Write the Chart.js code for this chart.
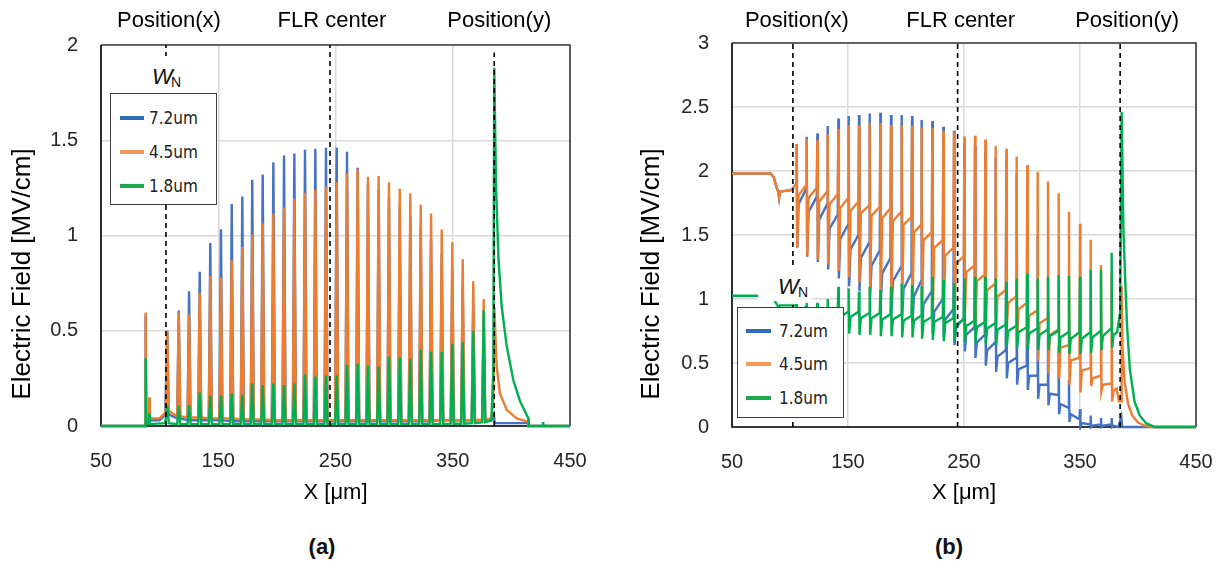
<!DOCTYPE html>
<html><head><meta charset="utf-8">
<script src="https://cdn.jsdelivr.net/npm/chart.js@4.4.1/dist/chart.umd.min.js"></script>
<style>
html,body{margin:0;padding:0;background:#fff;}
#wrap{position:relative;width:1224px;height:568px;overflow:hidden;background:#fff;}
canvas{position:absolute;top:0;}
.leg{position:absolute;background:#fff;border:1px solid #404040;box-sizing:border-box;font-family:"DejaVu Sans Condensed","DejaVu Sans",sans-serif;font-size:17px;color:#222;}
.leg .it{position:absolute;left:0;height:20px;line-height:20px;white-space:nowrap;width:100%;}
.leg .sw{position:absolute;top:8px;height:4px;}
.leg .tx{position:absolute;top:0;}
.wn{position:absolute;background:#fff;font-family:"Liberation Sans",Arial,sans-serif;color:#111;}
.wn .w{position:absolute;font-style:italic;font-size:22px;line-height:22px;}
.wn .n{position:absolute;font-size:14px;line-height:14px;}
.cap{position:absolute;font-family:"Liberation Sans",Arial,sans-serif;font-weight:bold;font-size:22px;color:#111;transform:translate(-50%,-50%);}
</style></head>
<body>
<div id="wrap">
<canvas id="ca" width="612" height="520" style="left:0px"></canvas>
<canvas id="cb" width="624" height="520" style="left:612px"></canvas>

<div class="wn" style="left:150px;top:56px;width:34px;height:37px;"><span class="w" style="left:2px;top:10px;">W</span><span class="n" style="left:21px;top:19px;">N</span></div>
<div class="leg" style="left:110px;top:93px;width:107px;height:112px;">
  <div class="it" style="top:14px"><div class="sw" style="left:9px;width:24px;background:#2F6EBA"></div><span class="tx" style="left:38px">7.2um</span></div>
  <div class="it" style="top:48px"><div class="sw" style="left:9px;width:24px;background:#F4995A"></div><span class="tx" style="left:38px">4.5um</span></div>
  <div class="it" style="top:82px"><div class="sw" style="left:9px;width:24px;background:#1FA64E"></div><span class="tx" style="left:38px">1.8um</span></div>
</div>

<div class="wn" style="left:758px;top:265px;width:54px;height:36px;"><span class="w" style="left:20px;top:11px;">W</span><span class="n" style="left:40px;top:20px;">N</span></div>
<div class="leg" style="left:737px;top:307px;width:107px;height:111px;">
  <div class="it" style="top:13px"><div class="sw" style="left:8px;width:25px;background:#2F6EBA"></div><span class="tx" style="left:41px">7.2um</span></div>
  <div class="it" style="top:46px"><div class="sw" style="left:8px;width:25px;background:#F4995A"></div><span class="tx" style="left:41px">4.5um</span></div>
  <div class="it" style="top:80px"><div class="sw" style="left:8px;width:25px;background:#1FA64E"></div><span class="tx" style="left:41px">1.8um</span></div>
</div>

<div class="cap" style="left:322px;top:547px;">(a)</div>
<div class="cap" style="left:949px;top:547px;">(b)</div>
</div>

<script>
// ---------- shared labels / ticks ----------
const seriesNames = ['7.2um', '4.5um', '1.8um'];
const markerNames = ['Position(x)', 'FLR center', 'Position(y)'];
const xTickValues = [50, 150, 250, 350, 450];
const yTicksA = [0, 0.5, 1, 1.5, 2];
const yTicksB = [0, 0.5, 1, 1.5, 2, 2.5, 3];

// ---------- panel (a) ----------
const markersA = [105.4, 245.3, 385.4];
const ringsA = [106.5,116.3,125.1,134.2,143.2,152.3,161.5,170.5,179.0,187.9,197.0,206.1,214.9,224.0,232.8,241.9,251.0,259.8,268.9,277.7,286.8,295.6,304.8,313.8,322.7,331.5,340.6,349.6,358.5,367.5,376.4];
const peakA72 = [0.50,0.606,0.707,0.81,0.96,1.033,1.165,1.205,1.293,1.32,1.385,1.42,1.43,1.45,1.455,1.46,1.46,1.44,1.355,1.27,1.24,1.2,1.15,1.1,1.04,0.98,0.9,0.82,0.74,0.64,0.55];
const peakA45 = [0.50,0.596,0.585,0.70,0.789,0.78,0.87,0.94,1.005,1.063,1.116,1.147,1.19,1.225,1.24,1.256,1.281,1.325,1.35,1.309,1.312,1.28,1.246,1.221,1.163,1.116,1.031,0.965,0.877,0.76,0.667];
const peakA18 = [0.107,0.107,0.11,0.176,0.16,0.16,0.172,0.165,0.223,0.215,0.223,0.215,0.223,0.27,0.26,0.265,0.265,0.321,0.326,0.316,0.312,0.365,0.36,0.353,0.40,0.39,0.388,0.432,0.44,0.50,0.607];
const baseA72 = [0.06,0.04,0.03,0.03,0.03,0.03,0.025,0.025,0.025,0.025,0.025,0.025,0.025,0.025,0.025,0.025,0.025,0.025,0.025,0.025,0.025,0.025,0.025,0.025,0.025,0.025,0.03,0.03,0.03,0.03,0.03];
const baseA45 = [0.08,0.05,0.045,0.045,0.04,0.04,0.04,0.035,0.035,0.035,0.03,0.03,0.03,0.03,0.03,0.03,0.03,0.03,0.03,0.03,0.03,0.03,0.03,0.03,0.03,0.03,0.03,0.03,0.03,0.03,0.035];
const baseA18 = [0.015,0.01,0.01,0.01,0.01,0.01,0.01,0.01,0.01,0.01,0.01,0.01,0.01,0.01,0.01,0.01,0.01,0.01,0.01,0.01,0.01,0.01,0.01,0.01,0.01,0.01,0.01,0.012,0.012,0.015,0.02];
const leadA72 = [[50,0],[87.7,0],[88.1,0.58],[88.6,0.02],[90.9,0.02],[91.2,0.14],[91.6,0.03],[100,0.03],[104.8,0.06]];
const leadA45 = [[50,0],[87.7,0],[88.1,0.596],[88.6,0.03],[90.9,0.03],[91.2,0.151],[91.6,0.04],[100,0.04],[104.8,0.07]];
const leadA18 = [[50,0],[87.7,0],[88.1,0.356],[88.6,0.01],[90.9,0.01],[91.2,0.067],[91.6,0.01],[104.8,0.015]];
const tailA72 = [[383,0.03],[385,0.06],[385.8,0.015],[414.4,0.015],[414.6,0],[450,0]];
const tailA45 = [[383,0.04],[384.6,0.15],[385.6,0.62],[386.2,0.5],[387.5,0.31],[390.3,0.17],[396,0.085],[404.5,0.04],[414.4,0.022],[414.6,0],[450,0]];
const tailA18 = [[383,0.03],[384.6,0.3],[385.4,1.88],[386.9,1.26],[389,0.88],[391.7,0.63],[396,0.42],[401.7,0.24],[407.4,0.13],[414.5,0.04],[414.8,0],[426.8,0],[427,0.02],[427.2,0],[450,0]];

// ---------- panel (b) ----------
const markersB = [102.5, 244.5, 384.6];
const ringsB = [105.8,114.4,123.6,132.5,141.7,150.6,159.5,168.7,177.9,187.1,196.3,205.2,213.5,222.7,232.2,241.4,250.3,259.5,268.4,277.3,286.5,295.4,304.6,313.5,322.4,331.6,340.5,350.0,359.2,368.1,377.3];
const peakB72 = [2.21,2.268,2.294,2.352,2.411,2.43,2.437,2.45,2.456,2.437,2.437,2.43,2.398,2.39,2.346,2.315,2.22,2.2,2.15,2.1,2.05,1.98,1.9,1.5,0.9,0.63,0.37,0.14,0.09,0.07,0.07];
const kneeB72 = [1.9,1.86,1.8,1.74,1.66,1.58,1.5,1.44,1.38,1.32,1.25,1.2,1.14,1.06,1.0,0.92,0.85,0.78,0.72,0.66,0.6,0.54,0.48,0.4,0.33,0.25,0.15,0.06,0.02,0.02,0.02];
const troughB72 = [1.40,1.33,1.29,1.23,1.16,1.10,1.06,1.02,0.97,0.91,0.85,0.81,0.77,0.73,0.70,0.64,0.59,0.54,0.48,0.43,0.38,0.33,0.29,0.22,0.17,0.10,0.04,0,0,0,0];
const recovB72 = [1.74,1.68,1.62,1.55,1.47,1.39,1.32,1.26,1.2,1.14,1.08,1.02,0.96,0.9,0.84,0.78,0.72,0.66,0.6,0.55,0.5,0.45,0.4,0.33,0.26,0.18,0.1,0.03,0.01,0.01,0.01];
const peakB45 = [2.21,2.25,2.24,2.29,2.33,2.36,2.355,2.375,2.375,2.36,2.36,2.35,2.34,2.335,2.315,2.30,2.27,2.275,2.247,2.195,2.174,2.114,2.047,1.995,1.917,1.826,1.682,1.588,1.462,1.266,1.2];
const kneeB45 = [1.89,1.89,1.87,1.84,1.82,1.79,1.76,1.73,1.72,1.71,1.68,1.64,1.58,1.52,1.46,1.40,1.33,1.26,1.19,1.12,1.07,1.02,0.97,0.91,0.85,0.76,0.64,0.54,0.46,0.40,0.34];
const troughB45 = [1.40,1.34,1.31,1.27,1.22,1.17,1.13,1.09,1.05,1.01,0.97,0.94,0.91,0.88,0.86,0.85,0.84,0.82,0.80,0.79,0.78,0.67,0.62,0.52,0.42,0.38,0.33,0.27,0.32,0.28,0.20];
const recovB45 = [1.81,1.79,1.76,1.74,1.71,1.69,1.67,1.65,1.63,1.61,1.58,1.52,1.46,1.40,1.34,1.28,1.21,1.14,1.07,1.02,0.97,0.92,0.87,0.81,0.72,0.62,0.52,0.44,0.38,0.33,0.28];
const peakB18 = [0.96,0.97,0.97,1.0,1.096,1.083,1.057,1.096,1.07,1.096,1.12,1.11,1.10,1.174,1.148,1.122,1.16,1.174,1.174,1.16,1.135,1.16,1.2,1.16,1.174,1.188,1.18,1.174,1.227,1.227,1.362];
const kneeB18 = [0.95,0.94,0.93,0.92,0.91,0.90,0.90,0.89,0.89,0.88,0.88,0.87,0.87,0.86,0.86,0.85,0.84,0.83,0.82,0.81,0.80,0.79,0.78,0.77,0.76,0.75,0.74,0.74,0.74,0.75,0.77];
const troughB18 = [0.84,0.82,0.80,0.77,0.74,0.73,0.72,0.72,0.71,0.71,0.70,0.70,0.69,0.68,0.67,0.67,0.66,0.66,0.65,0.64,0.63,0.62,0.61,0.60,0.60,0.58,0.57,0.57,0.58,0.60,0.62];
const recovB18 = [0.90,0.89,0.88,0.87,0.86,0.86,0.85,0.85,0.84,0.84,0.83,0.83,0.82,0.82,0.81,0.80,0.79,0.78,0.77,0.76,0.75,0.74,0.73,0.72,0.71,0.70,0.69,0.69,0.70,0.71,0.72];
const leadB72 = [[50,1.98],[83.5,1.98],[86,1.95],[88.5,1.87],[89.8,1.84],[90.6,1.79],[91.4,1.84],[101,1.85],[104.8,1.89]];
const leadB45 = [[50,1.98],[83.5,1.98],[86,1.95],[88.5,1.87],[89.8,1.84],[90.6,1.79],[91.4,1.84],[101,1.85],[104.8,1.89]];
const leadB18 = [[50,1.025],[83.5,1.025],[86,1.0],[88.5,0.96],[89.8,0.94],[90.6,0.92],[91.4,0.95],[104.8,0.95]];
const tailB72 = [[383,0],[385.6,0.08],[386.3,0],[450,0]];
const tailB45 = [[381.5,0.3],[383.5,0.2],[385.4,0.2],[385.9,1.10],[386.6,0.62],[388.5,0.35],[391.5,0.18],[395,0.09],[400,0.035],[406,0.01],[412,0],[450,0]];
const tailB18 = [[382,0.74],[384.6,0.9],[385.9,2.46],[387.4,1.55],[389,1.15],[390.5,0.8],[393,0.45],[397,0.2],[401.5,0.09],[407,0.03],[414.7,0],[450,0]];

// ---------- builders ----------
const P = a => ({x: a[0], y: a[1]});
function buildA(lead, rings, peaks, bases, tail) {
  const pts = lead.map(P);
  rings.forEach((x, i) => {
    pts.push({x: x - 1.3, y: bases[i]});
    pts.push({x: x, y: peaks[i]});
    pts.push({x: x + 1.3, y: bases[i]});
  });
  tail.forEach(p => pts.push(P(p)));
  return pts;
}
function buildB(lead, rings, knee, peaks, trough, recov, tail) {
  const pts = lead.map(P);
  rings.forEach((x, i) => {
    pts.push({x: x - 0.5, y: knee[i]});
    pts.push({x: x, y: peaks[i]});
    pts.push({x: x + 0.4, y: trough[i]});
    if (recov) pts.push({x: x + 1.6, y: recov[i]});
  });
  tail.forEach(p => pts.push(P(p)));
  return pts;
}

const COL = {b: '#4472C4', o: '#ED7D31', g: '#00B050'};
const FONT = '"Liberation Sans", Arial, sans-serif';

function series(label, data, color, order) {
  return {label, data, borderColor: color, borderWidth: 2.4, pointRadius: 0, tension: 0, fill: false, order, clip: 3};
}
function dashed(x, top) {
  return {label: '_m', data: [{x, y: 0}, {x, y: top}], borderColor: '#000', borderWidth: 1.6, borderDash: [5, 4], pointRadius: 0, order: 0, clip: 3};
}

function makeChart(id, cfg) {
  const borderPlugin = {
    id: 'frame',
    beforeDatasetsDraw(chart) {
      const {ctx, chartArea: a} = chart;
      ctx.save();
      ctx.lineWidth = 1.6;
      ctx.strokeStyle = '#3a3a3a';
      ctx.beginPath();
      ctx.moveTo(a.left, a.top); ctx.lineTo(a.right, a.top); ctx.lineTo(a.right, a.bottom);
      ctx.stroke();
      ctx.strokeStyle = '#000';
      ctx.beginPath();
      ctx.moveTo(a.left, a.top); ctx.lineTo(a.left, a.bottom); ctx.lineTo(a.right, a.bottom);
      ctx.stroke();
      ctx.restore();
    },
    afterDraw(chart) {
      const {ctx} = chart;
      const xs = chart.scales.x;
      ctx.save();
      ctx.fillStyle = '#000';
      ctx.font = '22px ' + FONT;
      ctx.textAlign = 'center';
      ctx.textBaseline = 'middle';
      cfg.markers.forEach((m, i) => {
        ctx.fillText(markerNames[i], xs.getPixelForValue(m) + cfg.labelShift[i], 21);
      });
      ctx.translate(cfg.yTitleX, 274);
      ctx.rotate(-Math.PI / 2);
      ctx.font = '26px ' + FONT;
      ctx.fillText('Electric Field [MV/cm]', 0, 0);
      ctx.restore();
    }
  };
  return new Chart(document.getElementById(id), {
    type: 'line',
    data: {datasets: [
      dashed(cfg.markers[0], cfg.ymax), dashed(cfg.markers[1], cfg.ymax), dashed(cfg.markers[2], cfg.posYTop),
      series(seriesNames[2], cfg.g, COL.g, 1),
      series(seriesNames[1], cfg.o, COL.o, 2),
      series(seriesNames[0], cfg.b, COL.b, 3)
    ]},
    options: {
      responsive: false, animation: false, devicePixelRatio: 1,
      layout: {padding: {left: 0, right: cfg.padRight, top: cfg.padTop, bottom: 0}},
      plugins: {legend: {display: false}, tooltip: {enabled: false}},
      scales: {
        x: {
          type: 'linear', min: 50, max: 450,
          afterBuildTicks: s => { s.ticks = xTickValues.map(v => ({value: v})); },
          afterFit: s => { s.height = cfg.xHeight; },
          grid: {color: '#d9d9d9', lineWidth: 1.5, drawTicks: false},
          border: {display: false},
          ticks: {padding: 23, color: '#262626', font: {family: FONT, size: 20}, maxRotation: 0, callback: v => String(v)},
          title: {display: true, text: 'X [μm]', color: '#000', font: {family: FONT, size: 22}, padding: {top: 0, bottom: 14}}
        },
        y: {
          type: 'linear', min: 0, max: cfg.ymax,
          afterBuildTicks: s => { s.ticks = cfg.yTicks.map(v => ({value: v})); },
          afterFit: s => { s.width = cfg.plotLeft; },
          grid: {color: '#d9d9d9', lineWidth: 1.5, drawTicks: false},
          border: {display: false},
          ticks: {padding: 23, color: '#262626', font: {family: FONT, size: 20}, callback: v => String(v)}
        }
      }
    },
    plugins: [borderPlugin]
  });
}

makeChart('ca', {
  markers: markersA, labelShift: [3, 2, 5], yTitleX: 23, ymax: 2, posYTop: 1.96, yTicks: yTicksA,
  plotLeft: 101, padRight: 42, padTop: 45, xHeight: 94,
  b: buildA(leadA72, ringsA, peakA72, baseA72, tailA72),
  o: buildA(leadA45, ringsA, peakA45, baseA45, tailA45),
  g: buildA(leadA18, ringsA, peakA18, baseA18, tailA18)
});
makeChart('cb', {
  markers: markersB, labelShift: [4, 3, 7], yTitleX: 40, ymax: 3, posYTop: 3, yTicks: yTicksB,
  plotLeft: 120, padRight: 40, padTop: 43, xHeight: 93,
  b: buildB(leadB72, ringsB, kneeB72, peakB72, troughB72, recovB72, tailB72),
  o: buildB(leadB45, ringsB, kneeB45, peakB45, troughB45, recovB45, tailB45),
  g: buildB(leadB18, ringsB, kneeB18, peakB18, troughB18, recovB18, tailB18)
});
</script>
</body></html>
